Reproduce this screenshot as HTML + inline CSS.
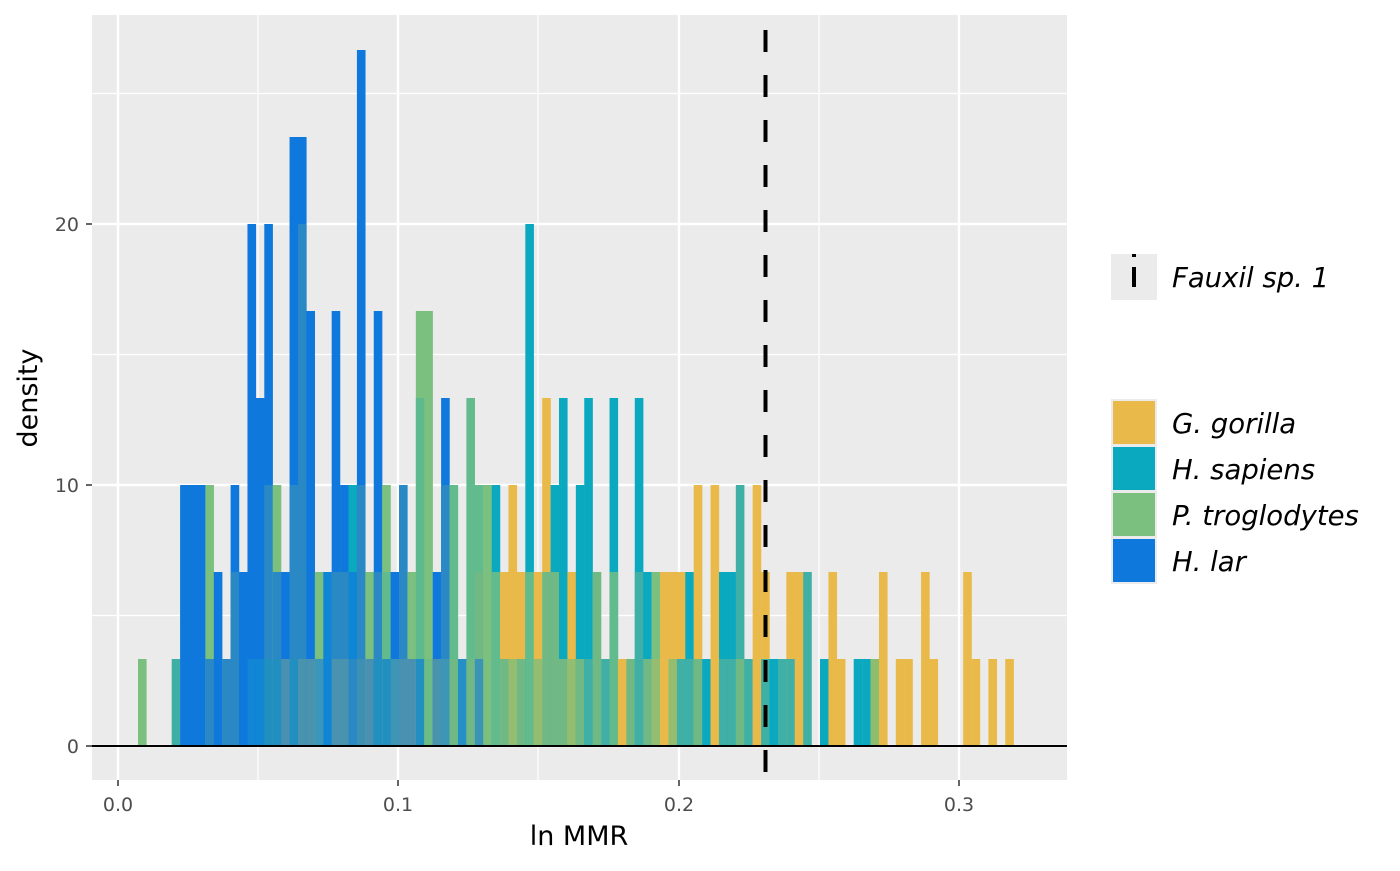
<!DOCTYPE html>
<html><head><meta charset="utf-8"><style>
html,body{margin:0;padding:0;background:#fff;}
svg text{font-family:"DejaVu Sans","Liberation Sans",sans-serif;}
</style></head><body>
<svg id="s" width="1400" height="866" viewBox="0 0 1400 866" xmlns="http://www.w3.org/2000/svg">
<rect x="0" y="0" width="1400" height="866" fill="#fff"/>
<rect x="92" y="15" width="975" height="765" fill="#ebebeb"/>
<g stroke="#fff" stroke-width="1.2">
<line x1="258" y1="15" x2="258" y2="780"/><line x1="538" y1="15" x2="538" y2="780"/><line x1="819" y1="15" x2="819" y2="780"/>
<line x1="92" y1="615.5" x2="1067" y2="615.5"/><line x1="92" y1="354.5" x2="1067" y2="354.5"/><line x1="92" y1="93.5" x2="1067" y2="93.5"/>
</g>
<g stroke="#fff" stroke-width="2.4">
<line x1="118" y1="15" x2="118" y2="780"/><line x1="398" y1="15" x2="398" y2="780"/><line x1="679" y1="15" x2="679" y2="780"/><line x1="959" y1="15" x2="959" y2="780"/>
<line x1="92" y1="746" x2="1067" y2="746"/><line x1="92" y1="485" x2="1067" y2="485"/><line x1="92" y1="224" x2="1067" y2="224"/>
</g>
<g id="bars"></g>
<line x1="92" y1="746" x2="1067" y2="746" stroke="#000" stroke-width="2"/>
<line x1="765.5" y1="30" x2="765.5" y2="782" stroke="#000" stroke-width="4" stroke-dasharray="22,23"/>
<g stroke="#333" stroke-width="1.5">
<line x1="118" y1="780" x2="118" y2="786"/><line x1="398" y1="780" x2="398" y2="786"/><line x1="679" y1="780" x2="679" y2="786"/><line x1="959" y1="780" x2="959" y2="786"/>
<line x1="86" y1="746" x2="92" y2="746"/><line x1="86" y1="485" x2="92" y2="485"/><line x1="86" y1="224" x2="92" y2="224"/>
</g>
<g fill="#4d4d4d" font-size="19">
<text x="118" y="811" text-anchor="middle">0.0</text><text x="398" y="811" text-anchor="middle">0.1</text><text x="679" y="811" text-anchor="middle">0.2</text><text x="959" y="811" text-anchor="middle">0.3</text>
<text x="79" y="753" text-anchor="end">0</text><text x="79" y="492" text-anchor="end">10</text><text x="79" y="231" text-anchor="end">20</text>
</g>
<text x="579" y="845" text-anchor="middle" font-size="27" fill="#000">ln MMR</text>
<text transform="translate(37,398) rotate(-90)" text-anchor="middle" font-size="27" fill="#000">density</text>
<rect x="1111" y="254" width="46" height="46" fill="#ebebeb"/>
<line x1="1134" y1="254" x2="1134" y2="300" stroke="#000" stroke-width="4" stroke-dasharray="3,10,20,30"/>
<text x="1172" y="287" font-size="27.5" font-style="italic">Fauxil sp. 1</text>
<g stroke="#ebebeb" stroke-width="2">
<rect x="1112" y="400" width="44" height="45" fill="#e9b94a"/>
<rect x="1112" y="446" width="44" height="45" fill="#0aa9c0"/>
<rect x="1112" y="492" width="44" height="45" fill="#7bc07f"/>
<rect x="1112" y="538" width="44" height="45" fill="#0e78dc"/>
</g>
<g font-size="27.5" font-style="italic">
<text x="1172" y="433">G. gorilla</text>
<text x="1172" y="479">H. sapiens</text>
<text x="1172" y="525">P. troglodytes</text>
<text x="1172" y="571">H. lar</text>
</g>
</svg>
<script>
var B='#0e78dc',T='#0aa9c0',G='#7bc07f',Y='#e9b94a',M='#2a89c4',Q='#40afa5',L='#70b985',P='#62bb8d';
var d={0:[[1,G]],4:[[1,'#3fafa5']],5:[[3,B]],6:[[3,B]],7:[[3,B]],8:[[3,G],[1,M]],9:[[2,B]],10:[[1,M]],11:[[3,B],[2,M]],12:[[2,B]],
13:[[6,B],[1,'#1086d5']],14:[[4,B],[1,'#1086d5']],15:[[6,B],[3,M],[1,'#2190c0']],16:[[3,G],[2,M],[1,'#2190c0']],17:[[2,B],[1,'#4a90b0']],
18:[[7,B],[3,M],[1,'#2190c0']],19:[[7,B],[6,M],[1,'#4a93ae']],20:[[5,B],[1,'#4a93ae']],21:[[2,G],[1,'#3b96bb']],22:[[2,'#0e86d5']],
23:[[5,B],[2,M],[1,'#4a93ae']],24:[[3,B],[2,M],[1,'#4a93ae']],25:[[3,T],[2,'#0e86d5'],[1,M]],26:[[8,B],[3,M],[1,'#3d90b3']],
27:[[2,G],[1,'#4a90b0']],28:[[5,B],[2,M],[1,'#2190c0']],29:[[3,G],[2,P],[1,'#2190c0']],30:[[2,B],[1,'#3d96b5']],31:[[3,M],[1,'#4a90b0']],
32:[[2,G],[1,'#4a90b0']],33:[[5,G],[4,'#5fb98e'],[1,'#2190c0']],34:[[5,G],[1,'#6dbb85']],35:[[2,B],[1,'#4a93ae']],36:[[4,B],[3,M],[1,'#3d96b5']],
37:[[3,P],[1,L]],38:[[1,'#2590c5']],39:[[4,P],[1,L]],40:[[3,P],[2,L],[1,'#3b93b5']],41:[[3,G]],42:[[3,T],[2,P]],43:[[2,Y],[1,L]],
44:[[3,Y],[1,'#95bd70']],45:[[2,Y],[1,L]],46:[[6,T],[2,P]],47:[[2,Y],[1,'#95bd70']],48:[[4,Y],[2,L]],49:[[3,T],[2,L]],50:[[4,T],[1,L]],
51:[[2,Y],[1,'#95bd70']],52:[[3,T],[1,L]],53:[[4,T],[1,Q]],54:[[2,L]],55:[[1,Q]],56:[[4,T],[2,P]],57:[[1,Y]],58:[[1,L]],59:[[4,T],[2,Q]],
60:[[2,T],[1,L]],61:[[2,G],[1,'#95bd70']],62:[[2,Y]],63:[[2,Y],[1,'#95bd70']],64:[[2,Y],[1,Q]],65:[[2,T],[1,Q]],66:[[3,Y],[1,L]],67:[[1,T]],
68:[[3,Y]],69:[[2,T],[1,Q]],70:[[2,T],[1,Q]],71:[[3,Q],[1,L]],72:[[1,Q]],73:[[3,Y]],74:[[2,Y],[1,Q]],75:[[1,T]],76:[[1,Q]],77:[[2,Y],[1,Q]],
78:[[2,Y]],79:[[2,Q]],81:[[1,T]],82:[[2,Y]],83:[[1,Y]],85:[[1,T]],86:[[1,T]],87:[[1,'#8fbd6e']],88:[[2,Y]],90:[[1,Y]],91:[[1,Y]],93:[[2,Y]],
94:[[1,Y]],98:[[2,Y]],99:[[1,Y]],101:[[1,Y]],103:[[1,Y]]};
var g=document.getElementById('bars'),h='';
for(var k in d){var x=138+8.42*k;d[k].forEach(function(s){var y=746-87*s[0];
h+='<rect x="'+x.toFixed(2)+'" y="'+y+'" width="8.6" height="'+(87*s[0])+'" fill="'+s[1]+'"/>';});}
g.innerHTML=h;
</script>
</body></html>
